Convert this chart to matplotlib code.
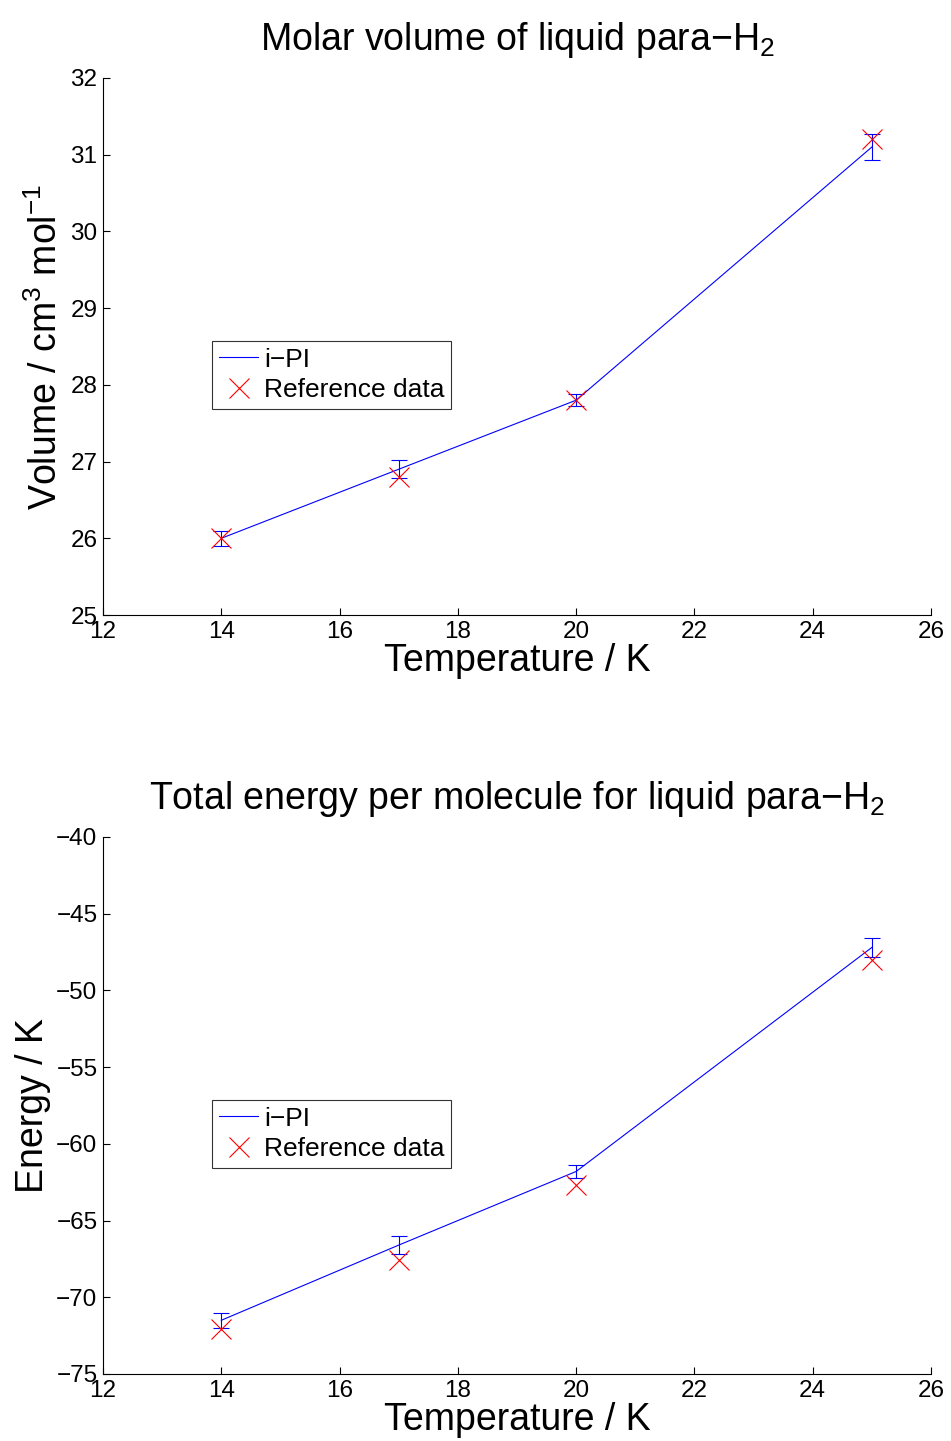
import matplotlib
matplotlib.use('Agg')
import matplotlib.pyplot as plt

plt.rcParams['font.family'] = ['Liberation Sans', 'DejaVu Sans']
plt.rcParams['mathtext.fontset'] = 'custom'
plt.rcParams['mathtext.rm'] = 'Liberation Sans'
plt.rcParams['mathtext.it'] = 'Liberation Sans'
plt.rcParams['mathtext.default'] = 'regular'

temps = [14, 17, 20, 25]

vol_ipi = [26.0, 26.9, 27.8, 31.1]
vol_err = [0.10, 0.12, 0.08, 0.17]
vol_ref = [26.0, 26.8, 27.8, 31.2]

energy_ipi = [-71.5, -66.6, -61.8, -47.2]
energy_err = [0.5, 0.6, 0.4, 0.6]
energy_ref = [-72.1, -67.6, -62.7, -48.0]

fig = plt.figure(figsize=(9.51, 14.41), dpi=100)
ax1 = fig.add_axes([0.1083, 0.5732, 0.8707, 0.3727])
ax2 = fig.add_axes([0.1083, 0.0465, 0.8707, 0.3727])


def draw(ax, y, err, ref, ylim, yticks, title, ylabel):
    ax.errorbar(temps, y, yerr=err, fmt='none', ecolor='blue', elinewidth=0.8,
                capsize=5.5, capthick=0.8)
    ax.plot(temps, y, color='blue', lw=0.8, label='i\u2212PI')
    ax.plot(temps, ref, 'x', color='red', markersize=14, markeredgewidth=0.8,
            label='Reference data', linestyle='none')
    ax.set_xlim(12, 26)
    ax.set_ylim(*ylim)
    ax.set_xticks(range(12, 27, 2))
    ax.set_yticks(yticks)
    ax.spines['top'].set_visible(False)
    ax.spines['right'].set_visible(False)
    ax.tick_params(direction='in', length=5, width=0.8, labelsize=17.5, pad=4)
    ax.set_title(title, fontsize=27, pad=20)
    ax.set_xlabel('Temperature / K', fontsize=27, labelpad=0)
    ax.set_ylabel(ylabel, fontsize=27, labelpad=4)
    leg = ax.legend(loc='upper left', bbox_to_anchor=(0.132, 0.51), fontsize=19,
                    frameon=True, fancybox=False, edgecolor='black',
                    handlelength=1.5, handletextpad=0.2, borderpad=0.25,
                    labelspacing=0.25, borderaxespad=0)
    leg.get_frame().set_linewidth(0.8)


draw(ax1, vol_ipi, vol_err, vol_ref, (25, 32), range(25, 33),
     r'Molar volume of liquid para$-$H$_2$', r'Volume / cm$^3$ mol$^{-1}$')
draw(ax2, energy_ipi, energy_err, energy_ref, (-75, -40), range(-75, -39, 5),
     r'Total energy per molecule for liquid para$-$H$_2$', 'Energy / K')

fig.savefig('out.png', dpi=100)
